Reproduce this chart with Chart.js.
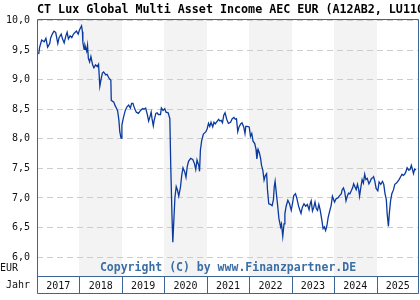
<!DOCTYPE html>
<html>
<head>
<meta charset="utf-8">
<script src="https://cdn.jsdelivr.net/npm/chart.js@4.4.1/dist/chart.umd.min.js"></script>
<style>
    html, body { margin: 0; padding: 0; background: #ffffff; }
    canvas { display: block; }
</style>
</head>
<body>
<canvas id="fund-chart" width="420" height="300"></canvas>
<script>
// Kursverlauf (Jahr als Dezimalzahl) und Anteilspreis in EUR
const dates = [
    2017.04, 2017.06, 2017.11, 2017.17, 2017.21, 2017.25, 2017.30, 2017.32, 2017.36, 2017.40,
    2017.44, 2017.49, 2017.52, 2017.57, 2017.60, 2017.64, 2017.68, 2017.71, 2017.74, 2017.78,
    2017.82, 2017.86, 2017.90, 2017.93, 2017.97, 2018.00, 2018.05, 2018.07, 2018.08, 2018.11,
    2018.13, 2018.17, 2018.19, 2018.21, 2018.24, 2018.27, 2018.31, 2018.34, 2018.38, 2018.42,
    2018.45, 2018.48, 2018.51, 2018.54, 2018.57, 2018.62, 2018.65, 2018.70, 2018.74, 2018.75,
    2018.81, 2018.84, 2018.87, 2018.90, 2018.93, 2018.95, 2018.98, 2019.00, 2019.04, 2019.08,
    2019.12, 2019.16, 2019.20, 2019.23, 2019.26, 2019.30, 2019.34, 2019.39, 2019.44, 2019.49,
    2019.52, 2019.56, 2019.60, 2019.63, 2019.66, 2019.69, 2019.71, 2019.74, 2019.76, 2019.80,
    2019.83, 2019.86, 2019.91, 2019.93, 2019.97, 2020.01, 2020.04, 2020.09, 2020.13, 2020.15,
    2020.18, 2020.20, 2020.22, 2020.25, 2020.28, 2020.31, 2020.34, 2020.38, 2020.41, 2020.44,
    2020.48, 2020.51, 2020.54, 2020.57, 2020.62, 2020.67, 2020.71, 2020.74, 2020.77, 2020.81,
    2020.83, 2020.85, 2020.88, 2020.92, 2020.95, 2020.98, 2021.01, 2021.04, 2021.07, 2021.10,
    2021.14, 2021.17, 2021.20, 2021.23, 2021.28, 2021.31, 2021.34, 2021.37, 2021.40, 2021.43,
    2021.47, 2021.51, 2021.56, 2021.60, 2021.64, 2021.67, 2021.70, 2021.73, 2021.76, 2021.80,
    2021.83, 2021.87, 2021.90, 2021.92, 2021.95, 2022.00, 2022.03, 2022.06, 2022.09, 2022.13,
    2022.16, 2022.18, 2022.21, 2022.24, 2022.27, 2022.29, 2022.32, 2022.35, 2022.38, 2022.41,
    2022.43, 2022.46, 2022.50, 2022.54, 2022.57, 2022.59, 2022.61, 2022.64, 2022.67, 2022.70,
    2022.74, 2022.76, 2022.79, 2022.82, 2022.84, 2022.87, 2022.91, 2022.95, 2022.99, 2023.02,
    2023.05, 2023.09, 2023.12, 2023.16, 2023.19, 2023.22, 2023.25, 2023.29, 2023.33, 2023.37,
    2023.41, 2023.44, 2023.46, 2023.49, 2023.52, 2023.55, 2023.58, 2023.61, 2023.64, 2023.67,
    2023.71, 2023.74, 2023.77, 2023.80, 2023.83, 2023.86, 2023.90, 2023.93, 2023.96, 2023.98,
    2024.01, 2024.05, 2024.09, 2024.13, 2024.17, 2024.19, 2024.22, 2024.25, 2024.28, 2024.31,
    2024.34, 2024.37, 2024.41, 2024.44, 2024.46, 2024.49, 2024.52, 2024.55, 2024.58, 2024.60,
    2024.63, 2024.66, 2024.69, 2024.72, 2024.75, 2024.78, 2024.82, 2024.85, 2024.88, 2024.91,
    2024.93, 2024.96, 2024.99, 2025.03, 2025.06, 2025.10, 2025.14, 2025.17, 2025.20, 2025.23,
    2025.25, 2025.28, 2025.30, 2025.33, 2025.36, 2025.40, 2025.43, 2025.47, 2025.50, 2025.53,
    2025.56, 2025.60, 2025.63, 2025.66, 2025.69, 2025.72, 2025.76, 2025.79, 2025.82, 2025.85,
    2025.87, 2025.90, 2025.93
];

const nav = [
    9.43, 9.54, 9.67, 9.64, 9.70, 9.55, 9.61, 9.70, 9.77, 9.82,
    9.80, 9.61, 9.71, 9.77, 9.69, 9.62, 9.74, 9.80, 9.69, 9.74,
    9.71, 9.77, 9.80, 9.82, 9.77, 9.84, 9.91, 9.81, 9.63, 9.51,
    9.58, 9.48, 9.58, 9.36, 9.30, 9.39, 9.25, 9.20, 9.25, 9.22,
    9.26, 8.89, 9.01, 9.11, 9.13, 9.08, 9.09, 9.02, 8.99, 8.65,
    8.62, 8.56, 8.52, 8.47, 8.31, 8.12, 8.01, 8.23, 8.37, 8.48,
    8.54, 8.57, 8.52, 8.60, 8.60, 8.51, 8.45, 8.43, 8.48, 8.51,
    8.50, 8.52, 8.41, 8.30, 8.37, 8.45, 8.34, 8.22, 8.31, 8.43,
    8.44, 8.41, 8.41, 8.52, 8.48, 8.51, 8.45, 8.44, 8.34, 7.58,
    6.70, 6.25, 6.56, 7.01, 7.19, 7.13, 7.03, 7.18, 7.38, 7.51,
    7.44, 7.35, 7.53, 7.62, 7.67, 7.65, 7.58, 7.48, 7.64, 7.55,
    7.45, 7.81, 7.97, 8.08, 8.10, 8.12, 8.17, 8.26, 8.21, 8.28,
    8.20, 8.28, 8.25, 8.28, 8.33, 8.30, 8.31, 8.27, 8.40, 8.44,
    8.33, 8.26, 8.28, 8.34, 8.36, 8.33, 8.34, 8.12, 8.20, 8.25,
    8.27, 8.20, 8.09, 8.21, 8.21, 8.20, 8.04, 8.09, 7.96, 7.92,
    7.82, 7.66, 7.82, 7.76, 7.66, 7.55, 7.47, 7.30, 7.38, 7.41,
    7.14, 6.90, 6.89, 6.87, 6.97, 7.19, 7.28, 7.07, 6.87, 6.65,
    6.51, 6.56, 6.35, 6.56, 6.73, 6.86, 6.96, 6.90, 6.79, 6.91,
    7.04, 7.07, 7.00, 6.87, 6.80, 6.74, 6.84, 6.90, 6.86, 6.89,
    6.80, 6.91, 6.95, 6.78, 6.84, 6.93, 6.82, 6.79, 6.89, 6.80,
    6.63, 6.48, 6.51, 6.45, 6.53, 6.67, 6.79, 6.87, 7.03, 6.99,
    6.93, 6.99, 7.00, 7.04, 7.07, 7.14, 7.17, 7.10, 6.95, 7.03,
    7.08, 7.07, 7.13, 7.18, 7.24, 7.19, 7.14, 7.23, 7.14, 7.03,
    7.18, 7.31, 7.25, 7.40, 7.31, 7.33, 7.24, 7.28, 7.33, 7.34,
    7.36, 7.28, 7.16, 7.12, 7.27, 7.23, 7.28, 7.23, 7.07, 6.97,
    6.73, 6.52, 6.73, 6.95, 7.07, 7.14, 7.23, 7.25, 7.28, 7.31,
    7.35, 7.40, 7.38, 7.40, 7.44, 7.51, 7.47, 7.48, 7.55, 7.47,
    7.41, 7.49, 7.47
];

const years = [2017, 2018, 2019, 2020, 2021, 2022, 2023, 2024, 2025];
const yearLabels = ['2017', '2018', '2019', '2020', '2021', '2022', '2023', '2024', '2025'];
const yTicks = [6.0, 6.5, 7.0, 7.5, 8.0, 8.5, 9.0, 9.5, 10.0];

const titleText = 'CT Lux Global Multi Asset Income AEC EUR (A12AB2, LU110';
const copyrightText = 'Copyright (C) by www.Finanzpartner.DE';

const frameColor = '#3b6594';
const monoFont = '"DejaVu Sans Mono", "Liberation Mono", monospace';

// Hintergrundstreifen, Rahmen und Beschriftungen
const decorPlugin = {
    id: 'decor',
    beforeDraw(chart) {
        const { ctx, chartArea, scales } = chart;
        ctx.save();
        ctx.fillStyle = '#f3f3f3';
        years.forEach(year => {
            if (year % 2 === 0) {
                const x1 = Math.round(scales.x.getPixelForValue(year));
                const x2 = Math.round(scales.x.getPixelForValue(year + 1));
                ctx.fillRect(x1, chartArea.top, x2 - x1, chartArea.bottom - chartArea.top);
            }
        });
        ctx.restore();
    },
    afterDraw(chart) {
        const { ctx, chartArea, scales } = chart;
        const left = Math.round(chartArea.left) + 0.5;
        const right = Math.round(chartArea.right) - 0.5;
        const top = Math.round(chartArea.top) + 0.5;
        const bottom = Math.round(chartArea.bottom) + 0.5;
        const rowBottom = bottom + 17;

        ctx.save();
        ctx.strokeStyle = frameColor;
        ctx.lineWidth = 1;
        ctx.beginPath();
        ctx.moveTo(left, top);
        ctx.lineTo(right, top);
        ctx.lineTo(right, rowBottom);
        ctx.lineTo(left, rowBottom);
        ctx.lineTo(left, top);
        ctx.moveTo(left, bottom);
        ctx.lineTo(right, bottom);
        years.forEach(year => {
            if (year === years[0]) return;
            const x = Math.round(scales.x.getPixelForValue(year)) + 0.5;
            ctx.moveTo(x, bottom);
            ctx.lineTo(x, rowBottom);
        });
        ctx.stroke();

        // Titel
        ctx.fillStyle = '#000000';
        ctx.font = 'bold 11.7px ' + monoFont;
        ctx.textAlign = 'left';
        ctx.textBaseline = 'alphabetic';
        ctx.fillText(titleText, 37, 13);

        // Achsenbeschriftungen
        ctx.font = '10px ' + monoFont;
        ctx.fillStyle = '#111111';
        ctx.textBaseline = 'middle';
        ctx.fillText('EUR', 0, 268);
        ctx.textAlign = 'right';
        ctx.fillText('Jahr', 30, 285);

        // Copyright
        ctx.font = 'bold 11.5px ' + monoFont;
        ctx.fillStyle = '#3a6ea5';
        ctx.textAlign = 'center';
        ctx.fillText(copyrightText, (chartArea.left + chartArea.right) / 2, 268);
        ctx.restore();
    }
};

const ctx = document.getElementById('fund-chart').getContext('2d');

const chart = new Chart(ctx, {
    type: 'line',
    data: {
        datasets: [{
            label: 'Anteilspreis',
            data: dates.map((d, i) => ({ x: d, y: nav[i] })),
            borderColor: '#0a3a9e',
            borderWidth: 1.3,
            pointRadius: 0,
            tension: 0,
            fill: false
        }]
    },
    options: {
        responsive: false,
        animation: false,
        layout: {
            padding: { top: 19, right: 1, left: 0, bottom: 0 }
        },
        plugins: {
            legend: { display: false },
            tooltip: { enabled: false }
        },
        scales: {
            x: {
                type: 'linear',
                min: 2017,
                max: 2026,
                afterBuildTicks: scale => {
                    scale.ticks = years.map(y => ({ value: y + 0.5 }));
                },
                afterFit: scale => {
                    scale.height = 24;
                },
                ticks: {
                    autoSkip: false,
                    maxRotation: 0,
                    padding: 4,
                    color: '#111111',
                    font: { family: monoFont, size: 10 },
                    callback: function(value) {
                        return yearLabels[years.indexOf(Math.floor(value))];
                    }
                },
                grid: { display: false, drawTicks: false },
                border: { display: false }
            },
            y: {
                min: 5.68,
                max: 10.025,
                afterBuildTicks: scale => {
                    scale.ticks = yTicks.map(v => ({ value: v }));
                },
                afterFit: scale => {
                    scale.width = 37;
                },
                ticks: {
                    padding: 7,
                    color: '#111111',
                    font: { family: monoFont, size: 10 },
                    callback: function(value) {
                        return value.toFixed(1).replace('.', ',');
                    }
                },
                grid: {
                    color: '#cccccc',
                    lineWidth: 1,
                    drawTicks: false
                },
                border: { display: false, dash: [6, 4] }
            }
        }
    },
    plugins: [decorPlugin]
});
</script>
</body>
</html>
